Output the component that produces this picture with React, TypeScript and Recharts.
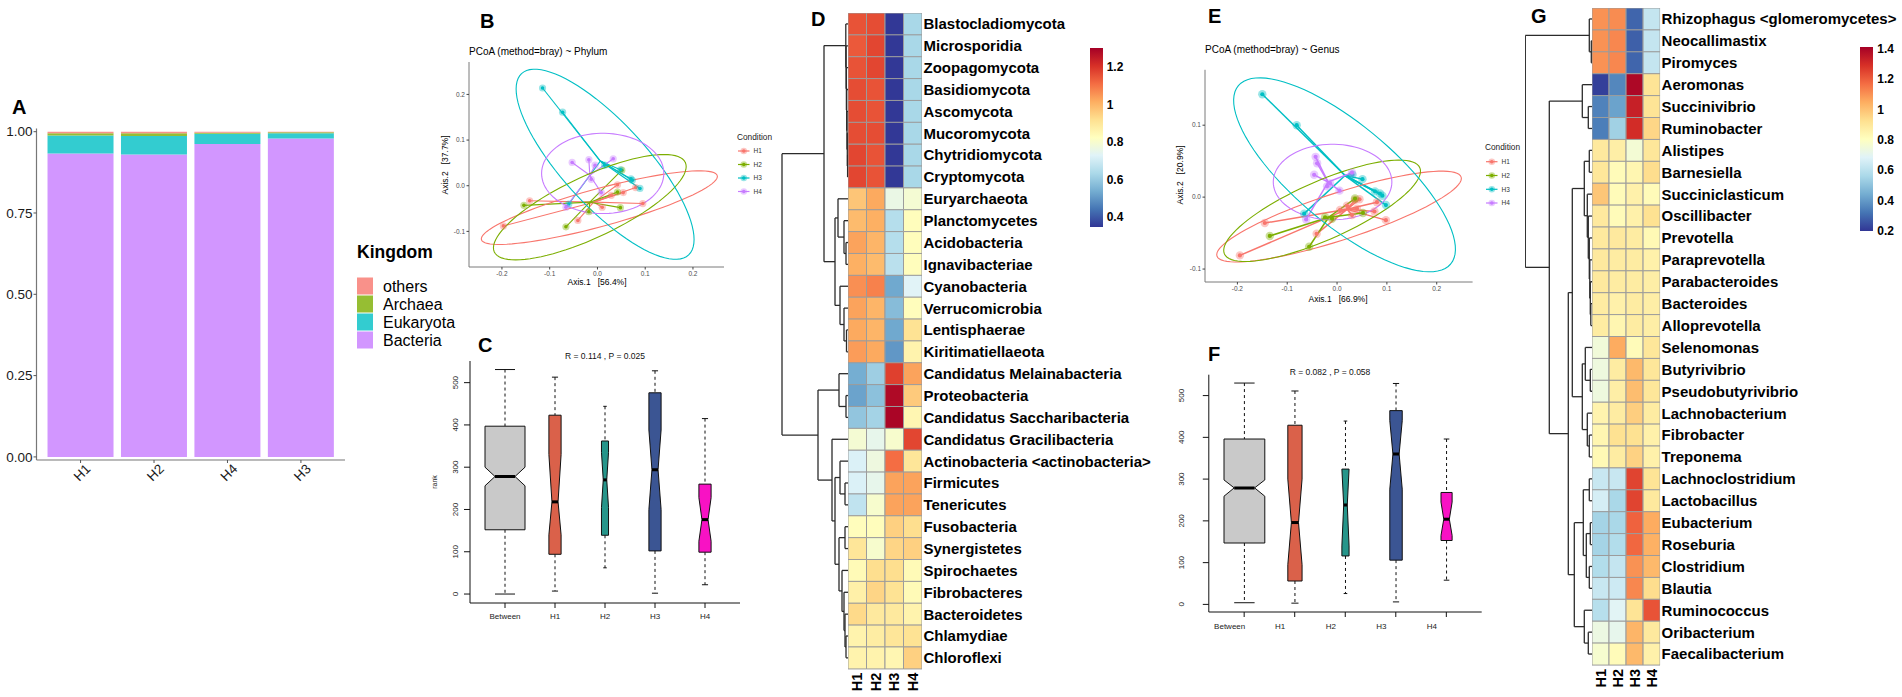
import React from 'react'
import {
  BarChart, Bar, XAxis, YAxis, Cell, ScatterChart, Scatter, ReferenceLine,
} from 'recharts'

const FONT = '"Liberation Sans", Arial, Helvetica, sans-serif'

// ---------- A: kingdom composition ----------
const kingdomSamples = ['H1', 'H2', 'H4', 'H3']
const kingdomBacteria = [0.933, 0.930, 0.962, 0.979]
const kingdomEukaryota = [0.055, 0.057, 0.032, 0.016]
const kingdomArchaea = [0.007, 0.008, 0.003, 0.003]
const kingdomOthers = [0.005, 0.005, 0.003, 0.002]
const kingdomLegend = ['others', 'Archaea', 'Eukaryota', 'Bacteria']
const kingdomColors = ['#F9918A', '#96BE33', '#33CCD0', '#D296FF']

// ---------- B / E: PCoA ----------
const conditions = ['H1', 'H2', 'H3', 'H4']
const conditionColors = ['#F8766D', '#7CAE00', '#00BFC4', '#C77CFF']

const phylumH1 = [[-0.197, -0.088], [-0.142, -0.033], [-0.041, -0.076], [0.010, -0.047], [0.042, 0.002], [0.054, -0.015], [0.080, -0.004], [0.095, -0.039], [0.029, -0.021]]
const phylumH2 = [[-0.154, -0.043], [-0.066, -0.090], [-0.018, -0.057], [0.048, -0.048], [0.042, -0.014], [0.051, 0.034]]
const phylumH3 = [[-0.115, 0.214], [-0.073, 0.161], [0.015, 0.045], [0.048, 0.035], [0.073, 0.012], [0.089, -0.006], [-0.060, -0.040], [0.070, 0.015]]
const phylumH4 = [[-0.053, 0.051], [-0.018, 0.057], [-0.005, 0.045], [0.033, 0.059], [-0.013, 0.014], [0.008, -0.015], [-0.066, -0.047]]
const phylumCentroids = [[-0.008, -0.036], [-0.016, -0.036], [0.006, 0.054], [-0.016, 0.023]]
// centre, half axis u, half axis v
const phylumEllipses = [
  [[0.004, -0.048], [0.247, 0.070], [0.010, -0.040]],
  [[-0.016, -0.047], [0.200, 0.098], [0.027, -0.061]],
  [[0.016, 0.047], [-0.175, 0.1985], [0.064, 0.063]],
  [[0.011, 0.027], [0.128, 0], [0, 0.088]],
]

const genusH1 = [[-0.195, -0.081], [-0.145, -0.036], [-0.041, -0.051], [0.006, -0.018], [0.020, -0.012], [0.036, -0.004], [0.045, -0.003], [0.040, -0.016], [0.080, -0.007], [0.075, -0.020], [0.098, -0.032], [0.030, -0.025]]
const genusH2 = [[-0.135, -0.054], [-0.056, -0.069], [-0.024, -0.028], [-0.010, -0.030], [0.036, -0.002], [0.052, -0.022]]
const genusH3 = [[-0.150, 0.143], [-0.081, 0.100], [0.031, 0.031], [0.051, 0.025], [0.076, 0.008], [0.086, 0.005], [0.091, 0.002], [0.098, -0.011], [-0.066, -0.023]]
const genusH4 = [[-0.043, 0.056], [-0.040, 0.047], [-0.046, 0.031], [-0.014, 0.019], [0.005, 0.009], [0.030, 0.034], [-0.062, -0.031], [-0.020, 0.015]]
const genusCentroids = [[0.020, -0.017], [-0.017, -0.028], [0.016, 0.030], [-0.018, 0.021]]
const genusEllipses = [
  [[0.004, -0.027], [0.245, 0.055], [0.015, -0.031]],
  [[-0.030, -0.019], [0.196, 0.060], [0.024, -0.037]],
  [[0.015, 0.031], [0.213, -0.124], [0.0645, 0.053]],
  [[-0.009, 0.021], [0.119, 0], [0, 0.0525]],
]

// ---------- C / F: ANOSIM rank boxplots ----------
const rankGroups = ['Between', 'H1', 'H2', 'H3', 'H4']
const rankColors = ['#C9C9C9', '#DA614A', '#26958A', '#3B5593', '#F812C4']
const phylumRankMin = [0, 7, 62, 2, 22]
const phylumRankQ1 = [152, 94, 139, 102, 99]
const phylumRankMed = [278, 218, 270, 294, 176]
const phylumRankQ3 = [397, 423, 362, 476, 260]
const phylumRankMax = [531, 513, 444, 528, 415]
const phylumNotchLo = [256, 140, 205, 200, 125]
const phylumNotchHi = [300, 330, 335, 388, 228]
const phylumRankN = [484, 45, 15, 45, 45]
const genusRankMin = [4, 3, 26, 6, 58]
const genusRankQ1 = [147, 56, 116, 106, 153]
const genusRankMed = [279, 196, 238, 360, 204]
const genusRankQ3 = [396, 429, 324, 464, 268]
const genusRankMax = [530, 511, 439, 529, 396]
const genusNotchLo = [259, 95, 140, 276, 165]
const genusNotchHi = [298, 300, 324, 440, 245]
const genusRankN = [484, 59, 15, 45, 36]

// ---------- D / G: heatmaps ----------
const sampleCols = ['H1', 'H2', 'H3', 'H4']
const phylumNames = ['Blastocladiomycota', 'Microsporidia', 'Zoopagomycota', 'Basidiomycota', 'Ascomycota', 'Mucoromycota', 'Chytridiomycota', 'Cryptomycota', 'Euryarchaeota', 'Planctomycetes', 'Acidobacteria', 'Ignavibacteriae', 'Cyanobacteria', 'Verrucomicrobia', 'Lentisphaerae', 'Kiritimatiellaeota', 'Candidatus Melainabacteria', 'Proteobacteria', 'Candidatus Saccharibacteria', 'Candidatus Gracilibacteria', 'Actinobacteria <actinobacteria>', 'Firmicutes', 'Tenericutes', 'Fusobacteria', 'Synergistetes', 'Spirochaetes', 'Fibrobacteres', 'Bacteroidetes', 'Chlamydiae', 'Chloroflexi']
const phylumValH1 = [1.15, 1.14, 1.15, 1.16, 1.16, 1.16, 1.17, 1.17, 0.97, 0.99, 1.03, 1.01, 1.06, 1.03, 1.02, 1.04, 0.54, 0.52, 0.59, 0.79, 0.72, 0.72, 0.67, 0.83, 0.90, 0.84, 0.87, 0.93, 0.86, 0.86]
const phylumValH2 = [1.16, 1.17, 1.17, 1.15, 1.15, 1.16, 1.15, 1.15, 1.02, 1.01, 1.00, 0.99, 1.08, 1.00, 1.00, 1.02, 0.61, 0.58, 0.62, 0.75, 0.77, 0.75, 0.80, 0.83, 0.80, 0.92, 0.94, 0.89, 0.88, 0.86]
const phylumValH3 = [0.35, 0.35, 0.35, 0.35, 0.35, 0.35, 0.35, 0.35, 0.76, 0.65, 0.65, 0.66, 0.53, 0.57, 0.53, 0.50, 1.18, 1.28, 1.29, 0.80, 1.11, 1.03, 1.03, 0.95, 0.94, 0.92, 0.91, 0.89, 0.90, 0.85]
const phylumValH4 = [0.63, 0.63, 0.63, 0.63, 0.63, 0.63, 0.63, 0.63, 0.79, 0.83, 0.83, 0.83, 0.73, 0.83, 0.91, 0.86, 1.03, 0.96, 0.85, 1.17, 0.90, 1.03, 1.03, 0.92, 0.95, 0.84, 0.84, 0.86, 0.91, 0.95]
const phylumScale = [0.347, 1.30]
const phylumTicks = [0.4, 0.6, 0.8, 1, 1.2]
// [height, left, right] ; numbers are row indices
const phylumTree = [66,
  [24,
    [2.2, 0, [1.9, 1, [1.6, 2, [1.3, 3, [1.0, 4, [0.7, 5, [0.4, 6, 7]]]]]]],
    [13, [10, 8, [4, 9, [2, 10, 11]]], [8, 12, [4, 13, [1.5, 14, 15]]]]],
  [30,
    [9, 16, [2, 17, 18]],
    [16, 19, [13, [8, 20, [3, 21, 22]], [9, [3, 23, 24], [6, 25, [4, 26, [3, 27, [2, 28, 29]]]]]]]]]

const genusNames = ['Rhizophagus <glomeromycetes>', 'Neocallimastix', 'Piromyces', 'Aeromonas', 'Succinivibrio', 'Ruminobacter', 'Alistipes', 'Barnesiella', 'Succiniclasticum', 'Oscillibacter', 'Prevotella', 'Paraprevotella', 'Parabacteroides', 'Bacteroides', 'Alloprevotella', 'Selenomonas', 'Butyrivibrio', 'Pseudobutyrivibrio', 'Lachnobacterium', 'Fibrobacter', 'Treponema', 'Lachnoclostridium', 'Lactobacillus', 'Eubacterium', 'Roseburia', 'Clostridium', 'Blautia', 'Ruminococcus', 'Oribacterium', 'Faecalibacterium']
const genusValH1 = [1.10, 1.10, 1.10, 0.22, 0.35, 0.34, 0.89, 0.90, 0.99, 0.89, 0.89, 0.89, 0.89, 0.88, 0.88, 0.75, 0.74, 0.74, 0.85, 0.84, 0.83, 0.63, 0.66, 0.55, 0.55, 0.58, 0.63, 0.59, 0.73, 0.77]
const genusValH2 = [1.11, 1.12, 1.12, 0.36, 0.42, 0.54, 0.87, 0.82, 0.82, 0.82, 0.89, 0.88, 0.88, 0.86, 0.84, 1.05, 0.88, 0.87, 0.88, 0.92, 0.88, 0.63, 0.56, 0.56, 0.58, 0.62, 0.64, 0.69, 0.71, 0.82]
const genusValH3 = [0.29, 0.28, 0.29, 1.39, 1.33, 1.30, 0.76, 0.84, 0.86, 0.86, 0.88, 0.88, 0.88, 0.88, 0.88, 0.82, 1.02, 1.01, 0.97, 0.92, 0.96, 1.25, 1.25, 1.19, 1.18, 1.10, 1.12, 0.91, 1.03, 1.02]
const genusValH4 = [0.62, 0.62, 0.62, 0.91, 0.91, 0.95, 0.90, 0.93, 0.82, 0.92, 0.83, 0.86, 0.87, 0.87, 0.87, 0.90, 0.90, 0.90, 0.88, 0.86, 0.86, 0.91, 0.89, 1.05, 1.04, 1.02, 0.93, 1.22, 0.89, 0.86]
const genusScale = [0.2, 1.41]
const genusTicks = [0.2, 0.4, 0.6, 0.8, 1, 1.2, 1.4]
const genusTree = [67,
  [3, 0, [1, 1, 2]],
  [43,
    [10, 3, [4, 4, 5]],
    [24,
      [20,
        [8, [3, 6, 7], [5, 8, [4, 9, [3, 10, [2.5, 11, [2, 12, [1.5, 13, 14]]]]]]],
        [10, [7, 15, [2, 16, 17]], [5, 18, [3, 19, 20]]]],
      [18,
        [9, [3, 21, 22], [6, [2, 23, 24], [3, 25, 26]]],
        [8, 27, [4, 28, 29]]]]]]

const RDYLBU = ['#313695', '#4575B4', '#74ADD1', '#ABD9E9', '#E0F3F8', '#FFFFBF', '#FEE090', '#FDAE61', '#F46D43', '#D73027', '#A50026']

function hexRgb(h: string) {
  return [1, 3, 5].map((i) => parseInt(h.slice(i, i + 2), 16))
}

function heat(v: number, lo: number, hi: number) {
  const t = Math.max(0, Math.min(1, (v - lo) / (hi - lo))) * (RDYLBU.length - 1)
  const i = Math.min(Math.floor(t), RDYLBU.length - 2)
  const f = t - i
  const a = hexRgb(RDYLBU[i])
  const b = hexRgb(RDYLBU[i + 1])
  return `rgb(${a.map((c, k) => Math.round(c + (b[k] - c) * f)).join(',')})`
}

function ellipsePoints(e: number[][]) {
  const [c, u, v] = e
  const out: { x: number; y: number }[] = []
  for (let k = 0; k <= 90; k++) {
    const t = (k / 90) * Math.PI * 2
    out.push({ x: c[0] + u[0] * Math.cos(t) + v[0] * Math.sin(t), y: c[1] + u[1] * Math.cos(t) + v[1] * Math.sin(t) })
  }
  return out
}

const abs = (left: number, top: number): React.CSSProperties => ({ position: 'absolute', left, top })

// ---------- panels ----------
function KingdomBars() {
  const table = kingdomSamples.map((s, i) => ({
    sample: s, Bacteria: kingdomBacteria[i], Eukaryota: kingdomEukaryota[i], Archaea: kingdomArchaea[i], others: kingdomOthers[i],
  }))
  return (
    <div style={abs(0, 0)}>
      <BarChart width={360} height={500} data={table} margin={{ top: 128.6, right: 15, bottom: 0, left: 0 }} barCategoryGap={3.67}>
        <XAxis dataKey="sample" padding={{ left: 7.35, right: 7.35 }} height={40} tickSize={3} tickMargin={1} interval={0}
          tick={{ angle: -45, textAnchor: 'end', fontSize: 13.5, fill: '#1a1a1a', dx: 4, dy: -1 }}
          tickLine={{ stroke: '#555' }} axisLine={{ stroke: '#777', strokeWidth: 1.2 }} />
        <YAxis type="number" domain={[-0.0095, 1.0095]} ticks={[0, 0.25, 0.5, 0.75, 1]} tickFormatter={(v: number) => v.toFixed(2)} allowDataOverflow width={36.5} tickSize={3} tickMargin={1} tick={{ fontSize: 13.5, fill: '#1a1a1a' }} tickLine={{ stroke: '#555' }} axisLine={{ stroke: '#777', strokeWidth: 1.2 }} />
        <XAxis xAxisId="top" orientation="top" dataKey="sample" height={0} tick={false} tickLine={false} axisLine={{ stroke: '#777', strokeWidth: 1.2 }} />
        <YAxis yAxisId="right" orientation="right" type="number" domain={[0, 1]} width={0} tick={false} tickLine={false} axisLine={{ stroke: '#777', strokeWidth: 1.2 }} />
        <Bar dataKey="Bacteria" stackId="k" fill={kingdomColors[3]} isAnimationActive={false} />
        <Bar dataKey="Eukaryota" stackId="k" fill={kingdomColors[2]} isAnimationActive={false} />
        <Bar dataKey="Archaea" stackId="k" fill={kingdomColors[1]} isAnimationActive={false} />
        <Bar dataKey="others" stackId="k" fill={kingdomColors[0]} isAnimationActive={false} />
      </BarChart>
    </div>
  )
}

const dotShape = (r: number) => (props: any) => (
  <g>
    <circle cx={props.cx} cy={props.cy} r={r} fill={props.fill} fillOpacity={0.4} />
    <circle cx={props.cx} cy={props.cy} r={r * 0.5} fill={props.fill} />
  </g>
)

function Pcoa({ left, top, width, height, margin, yw, xh, xDomain, yDomain, xTicks, yTicks, groups, centroids, ellipses, dotR, lineW }: any) {
  const f1 = (v: number) => v.toFixed(1)
  const ax = { stroke: '#7a7a7a', strokeWidth: 1 }
  return (
    <div style={abs(left, top)}>
      <ScatterChart width={width} height={height} margin={margin}>
        <XAxis type="number" dataKey="x" domain={xDomain} ticks={xTicks} tickFormatter={f1} allowDataOverflow height={xh} tickSize={2.5} tickMargin={1.5} tick={{ fontSize: 6.5, fill: '#4d4d4d' }} tickLine={{ stroke: '#444' }} axisLine={ax} />
        <YAxis type="number" dataKey="y" domain={yDomain} ticks={yTicks} tickFormatter={f1} allowDataOverflow width={yw} tickSize={2.5} tickMargin={1.5} tick={{ fontSize: 6.5, fill: '#4d4d4d' }} tickLine={{ stroke: '#444' }} axisLine={ax} />
        <XAxis xAxisId="top" orientation="top" type="number" domain={xDomain} allowDataOverflow height={0} tick={false} tickLine={false} axisLine={ax} />
        <YAxis yAxisId="right" orientation="right" type="number" domain={yDomain} allowDataOverflow width={0} tick={false} tickLine={false} axisLine={ax} />
        {ellipses.map((e: number[][], i: number) => (
          <Scatter key={`e${i}`} data={ellipsePoints(e)} line={{ stroke: conditionColors[i], strokeWidth: 1.1 }} lineType="joint" shape={() => <g />} isAnimationActive={false} />
        ))}
        {groups.map((pts: number[][], i: number) => pts.map((p, j) => (
          <ReferenceLine key={`s${i}-${j}`} segment={[{ x: p[0], y: p[1] }, { x: centroids[i][0], y: centroids[i][1] }]} stroke={conditionColors[i]} strokeWidth={lineW} ifOverflow="visible" />
        )))}
        {groups.map((pts: number[][], i: number) => (
          <Scatter key={`p${i}`} data={pts.map((p) => ({ x: p[0], y: p[1] }))} fill={conditionColors[i]} shape={dotShape(dotR)} isAnimationActive={false} />
        ))}
      </ScatterChart>
    </div>
  )
}

function RankBoxes({ left, top, width, height, margin, yw, xh, pad, yDomain, mins, q1s, meds, q3s, maxs, nlos, nhis, ns, yLabelShift, xLabelDx, xLabelDy }: any) {
  const table = rankGroups.map((g, i) => ({
    g, range: [mins[i], maxs[i]], min: mins[i], max: maxs[i], q1: q1s[i], q3: q3s[i], med: meds[i], nlo: nlos[i], nhi: nhis[i], n: ns[i],
  }))
  const nMax = Math.max(...ns)
  const shape = (props: any) => {
    const { x, y, width: w, height: h, payload: p, index } = props
    const top0 = Math.min(y, y + h)
    const bot = Math.max(y, y + h)
    const py = (v: number) => top0 + ((p.max - v) / (p.max - p.min)) * (bot - top0)
    const cx = x + w / 2
    const hw = (w * 0.8 * Math.sqrt(p.n / nMax)) / 2
    const ins = hw * 0.5
    const pts = [
      [cx - hw, py(p.q1)], [cx - hw, py(p.nlo)], [cx - ins, py(p.med)], [cx - hw, py(p.nhi)], [cx - hw, py(p.q3)],
      [cx + hw, py(p.q3)], [cx + hw, py(p.nhi)], [cx + ins, py(p.med)], [cx + hw, py(p.nlo)], [cx + hw, py(p.q1)],
    ]
    return (
      <g>
        <line x1={cx} x2={cx} y1={py(p.max)} y2={py(p.q3)} stroke="#111" strokeDasharray="3 3" />
        <line x1={cx} x2={cx} y1={py(p.q1)} y2={py(p.min)} stroke="#111" strokeDasharray="3 3" />
        <line x1={cx - ins} x2={cx + ins} y1={py(p.max)} y2={py(p.max)} stroke="#111" />
        <line x1={cx - ins} x2={cx + ins} y1={py(p.min)} y2={py(p.min)} stroke="#111" />
        <polygon points={pts.map((q) => q.join(',')).join(' ')} fill={rankColors[index]} stroke="#111" strokeWidth={1} />
        <line x1={cx - ins} x2={cx + ins} y1={py(p.med)} y2={py(p.med)} stroke="#000" strokeWidth={3} />
      </g>
    )
  }
  const yTick = ({ x, y, payload }: any) => (
    <text transform={`translate(${x - yLabelShift},${y}) rotate(-90)`} textAnchor="middle" fontSize={8} fill="#222">{payload.value}</text>
  )
  const xTick = ({ x, y, payload }: any) => (
    <text x={x + xLabelDx} y={y + xLabelDy} textAnchor="middle" fontSize={8} fill="#222">{payload.value}</text>
  )
  const ax = { stroke: '#111', strokeWidth: 1 }
  return (
    <div style={abs(left, top)}>
      <BarChart width={width} height={height} data={table} margin={margin} barCategoryGap={0}>
        <XAxis dataKey="g" padding={{ left: pad, right: pad }} height={xh} tickSize={5} tick={xTick} interval={0} tickLine={ax} axisLine={ax} />
        <YAxis type="number" domain={yDomain} ticks={[0, 100, 200, 300, 400, 500]} allowDataOverflow width={yw} tickSize={6} tick={yTick} tickLine={ax} axisLine={ax} />
        <XAxis xAxisId="top" orientation="top" dataKey="g" height={0} tick={false} tickLine={false} axisLine={ax} />
        <YAxis yAxisId="right" orientation="right" type="number" domain={[0, 1]} width={0} tick={false} tickLine={false} axisLine={ax} />
        <Bar dataKey="range" shape={shape} isAnimationActive={false} />
      </BarChart>
    </div>
  )
}

function Heatmap({ left, top, cellW, cellH, names, cols, scale, labelWidth }: any) {
  const table = names.map((name: string) => ({ name, k1: 1, k2: 1, k3: 1, k4: 1 }))
  const plotW = cellW * 4
  const plotH = cellH * names.length
  const rowTick = ({ x, y, payload }: any) => (
    <text x={x + 1.5} y={y} dy="0.36em" textAnchor="start" fontSize={15} fontWeight={700} fill="#000">{payload.value}</text>
  )
  const colTick = ({ x, y, payload }: any) => (
    <text transform={`translate(${x},${y}) rotate(-90)`} dy="0.36em" textAnchor="end" fontSize={14.5} fontWeight={700} fill="#000">{sampleCols[Math.floor(payload.value)]}</text>
  )
  return (
    <div style={abs(left, top)}>
      <BarChart layout="vertical" width={plotW + labelWidth} height={plotH + 30} data={table} margin={{ top: 0, right: 0, bottom: 0, left: 0 }} barCategoryGap={0} barGap={0}>
        <XAxis type="number" domain={[0, 4]} ticks={[0.5, 1.5, 2.5, 3.5]} allowDataOverflow height={30} tickSize={0} tickMargin={4} tick={colTick} tickLine={false} axisLine={false} interval={0} />
        <YAxis type="category" dataKey="name" orientation="right" width={labelWidth} tickSize={0} tickMargin={0} tick={rowTick} tickLine={false} axisLine={false} interval={0} />
        {['k1', 'k2', 'k3', 'k4'].map((k, j) => (
          <Bar key={k} dataKey={k} stackId="h" stroke="#9c9c9c" strokeWidth={1} isAnimationActive={false}>
            {names.map((_: string, i: number) => <Cell key={i} fill={heat(cols[j][i], scale[0], scale[1])} />)}
          </Bar>
        ))}
      </BarChart>
    </div>
  )
}

function Dendrogram({ left, top, width, height, tree, n, hMax }: any) {
  const segs: number[][][] = []
  const walk = (node: any): { y: number; h: number } => {
    if (typeof node === 'number') return { y: node + 0.5, h: 0 }
    const [h, a, b] = node
    const A = walk(a)
    const B = walk(b)
    segs.push([[h, A.y], [h, B.y]])
    segs.push([[A.h, A.y], [h, A.y]])
    segs.push([[B.h, B.y], [h, B.y]])
    return { y: (A.y + B.y) / 2, h }
  }
  walk(tree)
  return (
    <div style={abs(left, top)}>
      <ScatterChart width={width} height={height} margin={{ top: 0, right: 0, bottom: 0, left: 0 }}>
        <XAxis type="number" dataKey="x" domain={[0, hMax]} reversed hide allowDataOverflow />
        <YAxis type="number" dataKey="y" domain={[0, n]} reversed hide allowDataOverflow />
        {segs.map((s, i) => (
          <ReferenceLine key={i} segment={[{ x: s[0][0], y: s[0][1] }, { x: s[1][0], y: s[1][1] }]} stroke="#2b2b2b" strokeWidth={1.3} ifOverflow="visible" />
        ))}
      </ScatterChart>
    </div>
  )
}

function GradientDefs() {
  const stops = RDYLBU.slice().reverse()
  return (
    <svg width={0} height={0} style={{ position: 'absolute' }}>
      <defs>
        <linearGradient id="rdylbu" x1="0" y1="0" x2="0" y2="1">
          {stops.map((c, i) => (
            <stop key={i} offset={`${(i / (stops.length - 1)) * 100}%`} stopColor={c} />
          ))}
        </linearGradient>
      </defs>
    </svg>
  )
}

function ColourBar({ left, top, barW, height, scale, ticks }: any) {
  const table = [{ key: 'scale', span: [scale[0], scale[1]] }]
  const pad = 10
  return (
    <div style={abs(left, top - pad)}>
      <BarChart width={barW + 40} height={height + 2 * pad} data={table} margin={{ top: pad, right: 0, bottom: pad, left: 0 }} barCategoryGap={0}>
        <XAxis dataKey="key" hide />
        <YAxis type="number" orientation="right" domain={scale} ticks={ticks} interval={0} allowDataOverflow width={40} tickSize={0} tickMargin={4} tickLine={false} axisLine={false} tickFormatter={(v: number) => (v === 1 ? '1' : v.toFixed(1))} tick={{ fontSize: 12, fontWeight: 700, fill: '#000' }} />
        <Bar dataKey="span" fill="url(#rdylbu)" isAnimationActive={false} />
      </BarChart>
    </div>
  )
}

function Overlay() {
  const letter = { fontSize: 20, fontWeight: 700, fill: '#000' }
  const legendRows = (x0: number, ys: number[]) => conditions.map((c, i) => (
    <g key={c}>
      <line x1={x0} x2={x0 + 11.5} y1={ys[i]} y2={ys[i]} stroke={conditionColors[i]} strokeWidth={1.2} />
      <circle cx={x0 + 5.8} cy={ys[i]} r={3.3} fill={conditionColors[i]} fillOpacity={0.4} />
      <circle cx={x0 + 5.8} cy={ys[i]} r={1.8} fill={conditionColors[i]} />
      <text x={x0 + 15.5} y={ys[i] + 2.4} fontSize={6.5} fill="#333">{c}</text>
    </g>
  ))
  return (
    <svg width={1902} height={697} style={{ position: 'absolute', left: 0, top: 0, pointerEvents: 'none', fontFamily: FONT }}>
      <text x={12} y={114} {...letter}>A</text>
      <text x={480} y={27.5} {...letter}>B</text>
      <text x={478} y={351.7} {...letter}>C</text>
      <text x={811} y={26} {...letter}>D</text>
      <text x={1208} y={23.3} {...letter}>E</text>
      <text x={1208} y={360.7} {...letter}>F</text>
      <text x={1531} y={23.3} {...letter}>G</text>

      <text x={357} y={258} fontSize={17.5} fontWeight={700} fill="#000">Kingdom</text>
      {kingdomLegend.map((k, i) => (
        <g key={k}>
          <rect x={357} y={277.5 + 18 * i} width={16} height={17} fill={kingdomColors[i]} />
          <text x={383} y={291.5 + 18 * i} fontSize={16} fill="#000">{k}</text>
        </g>
      ))}

      <text x={469} y={55} fontSize={10} fill="#000">PCoA (method=bray) ~ Phylum</text>
      <text x={597} y={285} fontSize={8.5} fill="#000" textAnchor="middle" style={{ whiteSpace: 'pre' }}>{'Axis.1   [56.4%]'}</text>
      <text transform="translate(448,165) rotate(-90)" fontSize={8.5} fill="#000" textAnchor="middle" style={{ whiteSpace: 'pre' }}>{'Axis.2   [37.7%]'}</text>
      <text x={737} y={140} fontSize={8.3} fill="#222">Condition</text>
      {legendRows(738, [151, 164.5, 178, 191.5])}

      <text x={1205} y={53} fontSize={10} fill="#000">PCoA (method=bray) ~ Genus</text>
      <text x={1338} y={302} fontSize={8.5} fill="#000" textAnchor="middle" style={{ whiteSpace: 'pre' }}>{'Axis.1   [66.9%]'}</text>
      <text transform="translate(1183,175) rotate(-90)" fontSize={8.5} fill="#000" textAnchor="middle" style={{ whiteSpace: 'pre' }}>{'Axis.2   [20.9%]'}</text>
      <text x={1485} y={150} fontSize={8.3} fill="#222">Condition</text>
      {legendRows(1486, [161.7, 175.5, 189.3, 203])}

      <text x={605} y={359} fontSize={8.5} fill="#111" textAnchor="middle">R =  0.114 ,  P =  0.025</text>
      <text transform="translate(437,482) rotate(-90)" fontSize={7} fill="#222" textAnchor="middle">rank</text>
      <text x={1330} y={374.5} fontSize={8.5} fill="#111" textAnchor="middle">R =  0.082 ,  P =  0.058</text>
    </svg>
  )
}

export default function App() {
  return (
    <div style={{ position: 'fixed', left: 0, top: 0, width: 1902, height: 697, background: '#fff', overflow: 'hidden', fontFamily: FONT }}>
      <GradientDefs />
      <KingdomBars />
      <Pcoa left={430} top={35} width={300} height={265} margin={{ top: 27, right: 6, bottom: 0, left: 0 }} yw={39} xh={33}
        xDomain={[-0.269, 0.265]} yDomain={[-0.178, 0.271]} xTicks={[-0.2, -0.1, 0, 0.1, 0.2]} yTicks={[-0.1, 0, 0.1, 0.2]}
        groups={[phylumH1, phylumH2, phylumH3, phylumH4]} centroids={phylumCentroids} ellipses={phylumEllipses} dotR={3.6} lineW={1.1} />
      <RankBoxes left={420} top={340} width={330} height={300} margin={{ top: 21, right: 10, bottom: 0, left: 0 }} yw={50} xh={37} pad={10}
        yDomain={[-21.2, 551.2]} mins={phylumRankMin} q1s={phylumRankQ1} meds={phylumRankMed} q3s={phylumRankQ3} maxs={phylumRankMax}
        nlos={phylumNotchLo} nhis={phylumNotchHi} ns={phylumRankN} yLabelShift={4} xLabelDx={0} xLabelDy={9} />
      <Dendrogram left={780} top={13.3} width={68} height={655.8} tree={phylumTree} n={30} hMax={68} />
      <Heatmap left={848} top={13.3} cellW={18.5} cellH={21.86} names={phylumNames} cols={[phylumValH1, phylumValH2, phylumValH3, phylumValH4]} scale={phylumScale} labelWidth={240} />
      <ColourBar left={1090} top={48} barW={12.7} height={179} scale={phylumScale} ticks={phylumTicks} />
      <Pcoa left={1160} top={40} width={320} height={275} margin={{ top: 29.8, right: 7.4, bottom: 0, left: 0 }} yw={45} xh={33}
        xDomain={[-0.265, 0.272]} yDomain={[-0.118, 0.177]} xTicks={[-0.2, -0.1, 0, 0.1, 0.2]} yTicks={[-0.1, 0, 0.1]}
        groups={[genusH1, genusH2, genusH3, genusH4]} centroids={genusCentroids} ellipses={genusEllipses} dotR={4.2} lineW={1.5} />
      <RankBoxes left={1160} top={350} width={330} height={300} margin={{ top: 24.7, right: 8.3, bottom: 0, left: 0 }} yw={48.8} xh={38} pad={10.1}
        yDomain={[-18.2, 550]} mins={genusRankMin} q1s={genusRankQ1} meds={genusRankMed} q3s={genusRankQ3} maxs={genusRankMax}
        nlos={genusNotchLo} nhis={genusNotchHi} ns={genusRankN} yLabelShift={17} xLabelDx={-14.5} xLabelDy={10} />
      <Dendrogram left={1525} top={7.5} width={67.3} height={657} tree={genusTree} n={30} hMax={67.3} />
      <Heatmap left={1592.3} top={7.5} cellW={17.03} cellH={21.9} names={genusNames} cols={[genusValH1, genusValH2, genusValH3, genusValH4]} scale={genusScale} labelWidth={250} />
      <ColourBar left={1860} top={46.7} barW={13.3} height={184} scale={genusScale} ticks={genusTicks} />
      <Overlay />
    </div>
  )
}
